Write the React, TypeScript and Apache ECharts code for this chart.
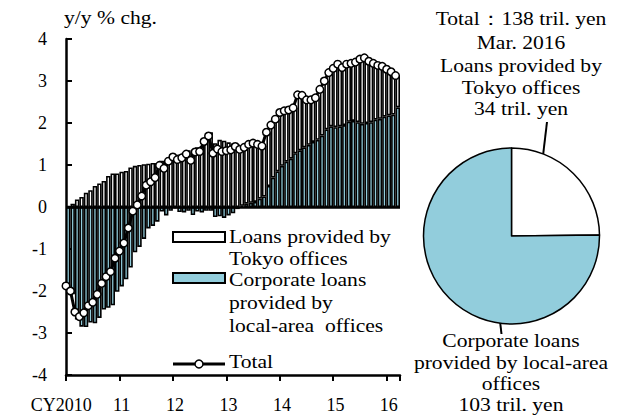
import React, { useEffect, useRef } from "react";
import * as echarts from "echarts";

// ---- data ----
const startYear = 2010;
const monthCount = 75; // Jan 2010 .. Mar 2016
const yearLabels = ["CY2010", "11", "12", "13", "14", "15", "16"];

// Total, y/y % chg.
const totalValues = [
  -1.88, -2.0, -2.5, -2.61, -2.52, -2.35, -2.27, -2.08, -1.82, -1.66,
  -1.54, -1.22, -1.05, -0.86, -0.5, -0.1, 0.05, 0.26, 0.52, 0.6,
  0.7, 0.99, 0.92, 1.09, 1.19, 1.13, 1.17, 1.26, 1.11, 1.31,
  1.32, 1.56, 1.69, 1.28, 1.38, 1.32, 1.34, 1.36, 1.44, 1.37,
  1.42, 1.49, 1.52, 1.49, 1.45, 1.78, 1.95, 2.09, 2.25, 2.29,
  2.31, 2.36, 2.67, 2.66, 2.55, 2.55, 2.6, 2.8, 3.0, 3.2,
  3.3, 3.4, 3.32, 3.4, 3.42, 3.45, 3.52, 3.55, 3.47, 3.42,
  3.37, 3.35, 3.28, 3.22, 3.13,
];

// Loans provided by Tokyo offices (contribution)
const tokyoValues = [
  0.02, 0.08, 0.18, 0.24, 0.34, 0.4, 0.5, 0.56, 0.62, 0.74,
  0.8, 0.8, 0.84, 0.86, 0.94, 0.98, 1.0, 1.02, 1.03, 1.05,
  1.05, 1.1, 1.12, 1.18, 1.22, 1.25, 1.3, 1.35, 1.3, 1.42,
  1.45, 1.65, 1.78, 1.52, 1.6, 1.58, 1.54, 1.51, 1.49, 1.34,
  1.34, 1.39, 1.4, 1.29, 1.2, 1.28, 1.25, 1.24, 1.27, 1.21,
  1.16, 1.08, 1.32, 1.24, 1.07, 1.0, 1.0, 1.1, 1.15, 1.28,
  1.4, 1.48, 1.37, 1.37, 1.37, 1.43, 1.54, 1.55, 1.45, 1.34,
  1.27, 1.2, 1.1, 1.02, 0.76,
];

// Corporate loans provided by local-area offices (contribution)
const localValues = [
  -1.9, -2.08, -2.68, -2.85, -2.86, -2.75, -2.77, -2.64, -2.44, -2.4,
  -2.34, -2.02, -1.89, -1.72, -1.44, -1.08, -0.95, -0.76, -0.51, -0.45,
  -0.35, -0.11, -0.2, -0.09, -0.03, -0.12, -0.13, -0.09, -0.19, -0.11,
  -0.13, -0.09, -0.09, -0.24, -0.22, -0.26, -0.2, -0.15, -0.05, 0.03,
  0.08, 0.1, 0.12, 0.2, 0.25, 0.5, 0.7, 0.85, 0.98, 1.08,
  1.15, 1.28, 1.35, 1.42, 1.48, 1.55, 1.6, 1.7, 1.85, 1.92,
  1.9, 1.92, 1.95, 2.03, 2.05, 2.02, 1.98, 2.0, 2.02, 2.08,
  2.1, 2.15, 2.18, 2.2, 2.37,
];

// Pie (Mar. 2016, tril. yen)
const pieNames = ["Loans provided by Tokyo offices", "Corporate loans provided by local-area offices"];
const pieValues = [34, 103];

const BLUE = "#92CDDC";
const FONT = "Liberation Serif, Times New Roman, serif";
const FS = 18;
const SX = 1.2;

function buildMonths(): string[] {
  const out: string[] = [];
  for (let k = 0; k < monthCount; k++) {
    const y = startYear + Math.floor(k / 12);
    const m = (k % 12) + 1;
    out.push(`${y}/${m}`);
  }
  return out;
}

function txt(text: string, x: number, y: number, align: string = "left") {
  return {
    type: "text",
    x,
    y,
    scaleX: SX,
    silent: true,
    style: {
      text,
      fill: "#000",
      fontSize: FS,
      fontFamily: FONT,
      textAlign: align,
      textVerticalAlign: "middle",
    },
  };
}

export default function App() {
  const ref = useRef<HTMLDivElement>(null);

  useEffect(() => {
    if (!ref.current) return;
    const chart = echarts.init(ref.current, null, { renderer: "svg" });
    const months = buildMonths();
    const lineCats = [...months, ""];

    const option: any = {
      animation: false,
      backgroundColor: "#fff",
      textStyle: { fontFamily: FONT },
      grid: { left: 66, right: 223, top: 39, bottom: 45, containLabel: false },
      xAxis: [
        {
          type: "category",
          data: months,
          boundaryGap: true,
          position: "bottom",
          axisLine: { onZero: false, lineStyle: { color: "#000", width: 2.5 } },
          axisTick: {
            show: true,
            interval: (i: number) => i % 12 === 0,
            length: 6,
            lineStyle: { color: "#000", width: 2 },
          },
          axisLabel: {
            interval: (i: number) => i % 12 === 0,
            formatter: (_v: string, i: number) => {
              const lab = yearLabels[Math.floor(i / 12)];
              return i === 0 ? `{f|${lab}}` : lab;
            },
            rich: { f: { padding: [0, 14, 0, 0], fontSize: FS, fontFamily: FONT, color: "#000" } },
            color: "#000",
            fontSize: FS,
            fontFamily: FONT,
            margin: 21,
          },
          splitLine: { show: false },
        },
        {
          type: "category",
          data: lineCats,
          boundaryGap: false,
          position: "bottom",
          show: false,
        },
      ],
      yAxis: {
        type: "value",
        min: -4,
        max: 4,
        interval: 1,
        axisLine: { show: true, onZero: false, lineStyle: { color: "#000", width: 2.5 } },
        axisTick: { show: true, inside: true, length: 6, lineStyle: { color: "#000", width: 2 } },
        axisLabel: { color: "#000", fontSize: FS, fontFamily: FONT, margin: 19 },
        splitLine: { show: false },
      },
      series: [
        {
          name: "Corporate loans provided by local-area offices",
          type: "bar",
          xAxisIndex: 0,
          stack: "loans",
          barCategoryGap: "0%",
          data: localValues,
          itemStyle: { color: BLUE, borderColor: "#000", borderWidth: 1.6 },
          silent: true,
          markLine: {
            silent: true,
            symbol: "none",
            label: { show: false },
            lineStyle: { color: "#000", width: 2.5, type: "solid" },
            data: [{ yAxis: 0 }],
          },
        },
        {
          name: "Loans provided by Tokyo offices",
          type: "bar",
          xAxisIndex: 0,
          stack: "loans",
          barCategoryGap: "0%",
          data: tokyoValues,
          itemStyle: { color: "#fff", borderColor: "#000", borderWidth: 1.6 },
          silent: true,
        },
        {
          name: "Total",
          type: "line",
          xAxisIndex: 1,
          data: totalValues,
          symbol: "circle",
          symbolSize: 7.5,
          showAllSymbol: true,
          z: 5,
          lineStyle: { color: "#000", width: 3 },
          itemStyle: { color: "#fff", borderColor: "#000", borderWidth: 1.5 },
          silent: true,
        },
        {
          name: "Mar. 2016",
          type: "pie",
          center: [511.5, 236],
          radius: 88,
          startAngle: 90,
          clockwise: true,
          silent: true,
          label: { show: false },
          labelLine: { show: false },
          emphasis: { disabled: true },
          itemStyle: { borderColor: "#000", borderWidth: 1.5 },
          data: [
            { name: pieNames[0], value: pieValues[0], itemStyle: { color: "#fff" } },
            { name: pieNames[1], value: pieValues[1], itemStyle: { color: BLUE } },
          ],
        },
      ],
      graphic: [
        // axis unit
        txt("y/y % chg.", 64, 18),
        // legend
        { type: "rect", shape: { x: 173, y: 232, width: 52, height: 10 }, style: { fill: "#fff", stroke: "#000", lineWidth: 2 }, silent: true },
        txt("Loans provided by", 229, 237),
        txt("Tokyo offices", 229, 259),
        { type: "rect", shape: { x: 173, y: 273, width: 52, height: 10 }, style: { fill: BLUE, stroke: "#000", lineWidth: 2 }, silent: true },
        txt("Corporate loans", 229, 280),
        txt("provided by", 229, 303),
        txt("local-area  offices", 229, 326),
        { type: "line", shape: { x1: 173, y1: 364, x2: 225, y2: 364 }, style: { stroke: "#000", lineWidth: 3 }, silent: true },
        { type: "circle", shape: { cx: 199, cy: 364, r: 4 }, style: { fill: "#fff", stroke: "#000", lineWidth: 1.5 }, silent: true },
        txt("Total", 229, 362),
        // pie annotations
        txt("Total：138 tril. yen", 521, 19, "center"),
        txt("Mar. 2016", 521, 43, "center"),
        txt("Loans provided by", 521, 66, "center"),
        txt("Tokyo offices", 521, 88, "center"),
        txt("34 tril. yen", 521, 109, "center"),
        txt("Corporate loans", 511, 341, "center"),
        txt("provided by local-area", 511, 363, "center"),
        txt("offices", 511, 384, "center"),
        txt("103 tril. yen", 511, 405, "center"),
        // arrows
        { type: "line", shape: { x1: 547, y1: 122, x2: 540.7, y2: 175 }, style: { stroke: "#000", lineWidth: 2 }, silent: true },
        { type: "polygon", shape: { points: [[539.5, 184], [545.2, 174.6], [536.2, 173.5]] }, style: { fill: "#000" }, silent: true },
        { type: "line", shape: { x1: 501.5, y1: 334, x2: 499.2, y2: 314 }, style: { stroke: "#000", lineWidth: 2 }, silent: true },
        { type: "polygon", shape: { points: [[498, 305], [503.7, 314.4], [494.7, 315.4]] }, style: { fill: "#000" }, silent: true },
      ],
    };

    chart.setOption(option);
    return () => chart.dispose();
  }, []);

  return (
    <div
      ref={ref}
      style={{ position: "fixed", left: 0, top: 0, width: 623, height: 420, background: "#fff" }}
    />
  );
}
